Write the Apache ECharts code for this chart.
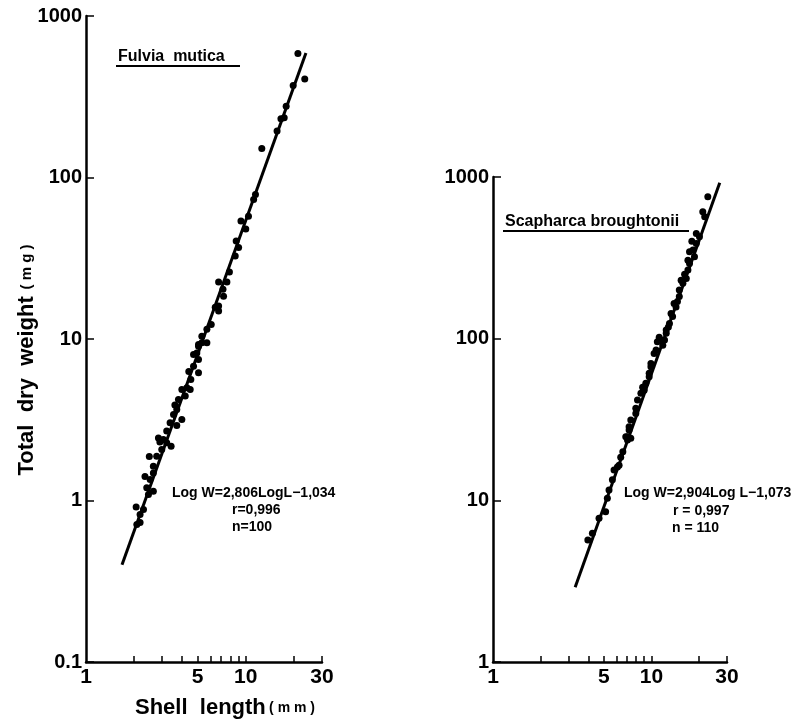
<!DOCTYPE html>
<html>
<head>
<meta charset="utf-8">
<script src="https://cdn.jsdelivr.net/npm/echarts@6/dist/echarts.min.js"></script>
<style>
  html, body { margin: 0; padding: 0; background: #fff; }
  #chart { width: 800px; height: 723px; }
</style>
</head>
<body>
<div id="chart"></div>
<script>
// Fulvia mutica: shell length (mm) / total dry weight (mg)
var fulviaLength = [21.2, 23.4, 19.8, 17.9, 17.4, 16.6, 15.7, 12.6, 11.5, 11.2,
  10.4, 9.33, 8.71, 9.02, 8.59, 6.76, 7.62, 7.2, 7.26, 6.76,
  6.76, 6.44, 6.08, 5.71, 5.31, 5.06, 4.71, 5.31, 4.94, 5.06,
  4.71, 5.06, 4.53, 4.28, 3.98, 4.49, 4.18, 3.79, 3.7, 3.53,
  3.98, 3.7, 3.36, 3.2, 2.84, 3.05, 3.41, 3.2, 2.98, 2.49,
  2.77, 2.64, 2.34, 2.64, 2.52, 2.4, 2.64, 2.46, 2.06, 2.29,
  2.18, 2.18, 2.08, 5.71, 5.06, 4.4, 3.6, 2.9, 7.9, 10.0]
var fulviaWeight = [586, 408, 371, 276, 234, 231, 194, 151, 78.5, 73,
  57.6, 53.7, 40.4, 36.8, 32.6, 22.5, 22.5, 20.3, 18.4, 16.0,
  14.9, 15.7, 12.3, 11.5, 9.47, 9.03, 8.02, 10.4, 8.2, 7.46,
  6.79, 6.17, 5.61, 4.99, 4.87, 4.87, 4.43, 4.22, 3.66, 3.41,
  3.17, 2.91, 3.03, 2.69, 2.44, 2.39, 2.17, 2.28, 2.07, 1.87,
  1.88, 1.63, 1.41, 1.48, 1.35, 1.2, 1.14, 1.09, 0.91, 0.88,
  0.82, 0.73, 0.71, 9.47, 9.25, 6.3, 3.9, 2.3, 26, 48]
var fulviaFit = [[1.68, 0.40], [23.8, 590]]

// Scapharca broughtonii
var scapharcaLength = [22.7, 21.1, 21.7, 20.1, 19.2, 18.3, 18.7, 17.4, 17.0, 16.6,
  15.8, 15.0, 14.3, 13.6, 13.0, 12.4, 11.5, 10.9, 11.8, 10.4,
  9.93, 9.68, 9.0, 8.58, 8.17, 7.97, 7.23, 7.06, 7.06, 6.25,
  5.81, 6.1, 5.67, 5.4, 5.27, 5.14, 4.67, 4.24, 3.97, 19.2,
  18.0, 17.4, 17.0, 16.2, 15.4, 15.0, 14.6, 13.9, 13.3, 12.4,
  11.2, 12.1, 10.7, 9.93, 9.68, 9.22, 8.8, 7.97, 7.41, 7.23,
  6.89, 7.41, 6.6, 6.4, 12.8]
var scapharcaWeight = [755, 609, 567, 427, 388, 353, 321, 292, 266, 236,
  220, 182, 157, 137, 124, 108, 98, 95.7, 91.2, 81,
  67, 58.1, 48, 45.9, 41.7, 34.5, 28.5, 24.7, 23.6, 16.5,
  15.4, 16.1, 13.4, 11.6, 10.3, 8.5, 7.74, 6.25, 5.68, 448,
  400, 345, 306, 250, 230, 200, 170, 165, 143, 113,
  102, 98, 85, 70.3, 61, 52.9, 50, 37.1, 31.4, 27.2,
  24.7, 24.2, 20, 18.5, 118]
var scapharcaFit = [[3.3, 2.9], [27, 920]]

var xTicks = [2, 3, 4, 5, 6, 7, 8, 9, 10, 20, 30]
var xLabels = [1, 5, 10, 30]
var yTicksLeft = [0.1, 1, 10, 100, 1000]
var yTicksRight = [1, 10, 100, 1000]

function pairs(xs, ys) {
  return xs.map(function(x, i) { return [x, ys[i]] })
}

var FONT = 'Liberation Sans'

function plainNum(v) {
  return String(v)
}

function xAxisOpt(grid) {
  return {
    type: 'log',
    gridIndex: grid,
    min: 1,
    max: 30,
    axisLine: { lineStyle: { color: '#000', width: 2.5 } },
    axisTick: { inside: true, length: 6, lineStyle: { color: '#000', width: 1.5 }, customValues: xTicks },
    axisLabel: {
      customValues: xLabels,
      formatter: plainNum,
      color: '#000',
      fontFamily: FONT,
      fontWeight: 'bold',
      fontSize: 21,
      margin: 5
    },
    splitLine: { show: false },
    minorTick: { show: false }
  }
}

function yAxisOpt(grid, min, ticks) {
  return {
    type: 'log',
    gridIndex: grid,
    min: min,
    max: 1000,
    axisLine: { lineStyle: { color: '#000', width: 2.5 } },
    axisTick: { inside: true, length: 8, lineStyle: { color: '#000', width: 1.5 }, customValues: ticks },
    axisLabel: {
      customValues: ticks,
      formatter: plainNum,
      color: '#000',
      fontFamily: FONT,
      fontWeight: 'bold',
      fontSize: 20,
      margin: 4
    },
    splitLine: { show: false }
  }
}

var chart = echarts.init(document.getElementById('chart'))
chart.setOption({
  backgroundColor: '#fff',
  animation: false,
  grid: [
    { left: 86, top: 16, width: 236, height: 646 },
    { left: 493, top: 177, width: 234, height: 485 }
  ],
  xAxis: [xAxisOpt(0), xAxisOpt(1)],
  yAxis: [yAxisOpt(0, 0.1, yTicksLeft), yAxisOpt(1, 1, yTicksRight)],
  series: [
    {
      type: 'scatter',
      xAxisIndex: 0,
      yAxisIndex: 0,
      symbolSize: 7,
      itemStyle: { color: '#000', opacity: 1 },
      data: pairs(fulviaLength, fulviaWeight)
    },
    {
      type: 'line',
      xAxisIndex: 0,
      yAxisIndex: 0,
      showSymbol: false,
      lineStyle: { color: '#000', width: 3 },
      data: fulviaFit
    },
    {
      type: 'scatter',
      xAxisIndex: 1,
      yAxisIndex: 1,
      symbolSize: 7,
      itemStyle: { color: '#000', opacity: 1 },
      data: pairs(scapharcaLength, scapharcaWeight)
    },
    {
      type: 'line',
      xAxisIndex: 1,
      yAxisIndex: 1,
      showSymbol: false,
      lineStyle: { color: '#000', width: 3 },
      data: scapharcaFit
    }
  ],
  graphic: [
    {
      type: 'text', x: 27, y: 360, rotation: Math.PI / 2,
      style: {
        text: '{a|Total  dry  weight}  {b|( m g )}',
        align: 'center', verticalAlign: 'middle',
        rich: {
          a: { fontFamily: FONT, fontWeight: 'bold', fontSize: 22, fill: '#000' },
          b: { fontFamily: FONT, fontWeight: 'bold', fontSize: 15, fill: '#000' }
        }
      }
    },
    {
      type: 'text', x: 225, y: 708,
      style: {
        text: '{a|Shell  length} {b|( m m )}',
        align: 'center', verticalAlign: 'middle',
        rich: {
          a: { fontFamily: FONT, fontWeight: 'bold', fontSize: 22, fill: '#000' },
          b: { fontFamily: FONT, fontWeight: 'bold', fontSize: 14, fill: '#000' }
        }
      }
    },
    {
      type: 'text', x: 118, y: 57,
      style: { text: 'Fulvia  mutica', font: 'bold 16px ' + FONT, fill: '#000', verticalAlign: 'middle' }
    },
    { type: 'line', shape: { x1: 116, y1: 66, x2: 240, y2: 66 }, style: { stroke: '#000', lineWidth: 2 } },
    {
      type: 'text', x: 505, y: 222,
      style: { text: 'Scapharca broughtonii', font: 'bold 16px ' + FONT, fill: '#000', verticalAlign: 'middle' }
    },
    { type: 'line', shape: { x1: 503, y1: 231, x2: 689, y2: 231 }, style: { stroke: '#000', lineWidth: 2 } },
    {
      type: 'text', x: 172, y: 493,
      style: { text: 'Log W=2,806LogL\u22121,034', font: 'bold 14px ' + FONT, fill: '#000', verticalAlign: 'middle' }
    },
    {
      type: 'text', x: 232, y: 510,
      style: { text: 'r=0,996', font: 'bold 14px ' + FONT, fill: '#000', verticalAlign: 'middle' }
    },
    {
      type: 'text', x: 232, y: 527,
      style: { text: 'n=100', font: 'bold 14px ' + FONT, fill: '#000', verticalAlign: 'middle' }
    },
    {
      type: 'text', x: 624, y: 493,
      style: { text: 'Log W=2,904Log L\u22121,073', font: 'bold 14px ' + FONT, fill: '#000', verticalAlign: 'middle' }
    },
    {
      type: 'text', x: 673, y: 511,
      style: { text: 'r = 0,997', font: 'bold 14px ' + FONT, fill: '#000', verticalAlign: 'middle' }
    },
    {
      type: 'text', x: 672, y: 528,
      style: { text: 'n = 110', font: 'bold 14px ' + FONT, fill: '#000', verticalAlign: 'middle' }
    }
  ]
})
</script>
</body>
</html>
